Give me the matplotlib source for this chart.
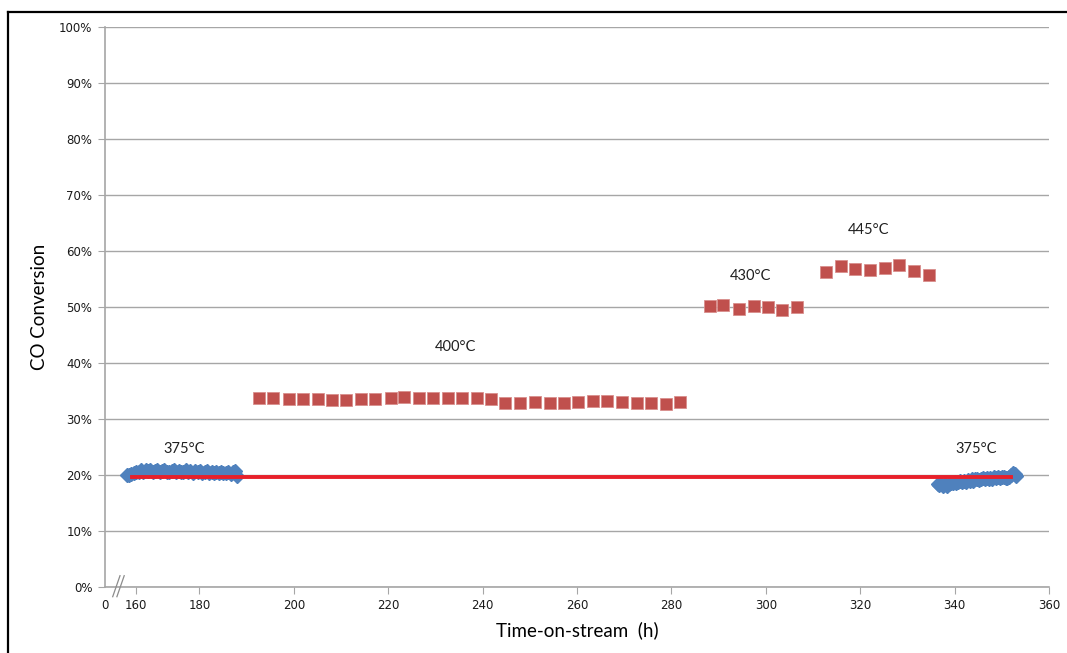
import matplotlib.pyplot as plt
from matplotlib.lines import Line2D

# 375 °C, first run (dense logging)
t_375a = [164.6, 165.1, 165.6, 166.1, 166.6, 167.1, 167.6, 168.1, 168.6, 169.1,
          169.6, 170.1, 170.6, 171.1, 171.6, 172.1, 172.6, 173.1, 173.6, 174.1,
          174.6, 175.1, 175.6, 176.1, 176.6, 177.1, 177.6, 178.1, 178.6, 179.1,
          179.6, 180.1, 180.6, 181.1, 181.6, 182.1, 182.6, 183.1, 183.6, 184.1,
          184.6, 185.1, 185.6, 186.1, 186.6, 187.1, 187.6, 188.0]
x_375a = [19.9, 20.0, 20.2, 20.4, 20.6, 20.5, 20.8, 20.6, 20.9, 20.7,
          20.8, 20.5, 20.7, 20.8, 20.5, 20.7, 20.8, 20.6, 20.5, 20.7,
          20.8, 20.5, 20.7, 20.6, 20.5, 20.8, 20.5, 20.7, 20.4, 20.7,
          20.5, 20.7, 20.4, 20.5, 20.7, 20.4, 20.6, 20.4, 20.5, 20.3,
          20.6, 20.4, 20.3, 20.5, 20.2, 20.5, 20.7, 19.8]

# 400 / 430 / 445 °C
t_400 = [192.7, 195.7, 198.9, 201.9, 205.1, 208.1, 211.1, 214.2, 217.2, 220.5,
         223.4, 226.5, 229.5, 232.7, 235.7, 238.8, 241.8, 244.8, 248.0, 251.1,
         254.2, 257.2, 260.3, 263.4, 266.4, 269.5, 272.7, 275.7, 278.8, 281.8]
x_400 = [33.8, 33.8, 33.6, 33.6, 33.6, 33.4, 33.4, 33.6, 33.6, 33.8,
         33.9, 33.8, 33.8, 33.8, 33.8, 33.8, 33.6, 32.9, 32.9, 33.0,
         32.9, 32.9, 33.0, 33.2, 33.2, 33.0, 32.9, 32.9, 32.7, 33.0]

t_430 = [288.1, 291.0, 294.3, 297.4, 300.4, 303.4, 306.6]
x_430 = [50.1, 50.4, 49.7, 50.1, 49.9, 49.5, 49.9]

t_445 = [312.7, 315.9, 318.9, 322.0, 325.2, 328.2, 331.4, 334.5]
x_445 = [56.2, 57.3, 56.7, 56.6, 56.9, 57.5, 56.4, 55.6]

# 375 °C, return run
t_375b = [336.4, 336.8, 337.2, 337.6, 338.0, 338.4, 338.8, 339.2, 339.6, 340.0,
          340.4, 340.8, 341.2, 341.6, 342.0, 342.4, 342.8, 343.2, 343.6, 344.0,
          344.4, 344.8, 345.2, 345.6, 346.0, 346.4, 346.8, 347.2, 347.6, 348.0,
          348.4, 348.8, 349.2, 349.6, 350.0, 350.4, 350.8, 351.2, 351.6, 352.0,
          352.4, 352.8, 353.1]
x_375b = [18.3, 18.2, 18.4, 18.1, 18.3, 18.0, 18.4, 18.5, 18.6, 18.7,
          18.5, 18.8, 18.9, 18.7, 19.0, 18.8, 19.1, 18.9, 19.2, 19.0,
          19.2, 19.3, 19.1, 19.3, 19.4, 19.2, 19.5, 19.3, 19.5, 19.3,
          19.6, 19.4, 19.6, 19.4, 19.6, 19.7, 19.5, 19.4, 19.6, 20.0,
          20.4, 20.1, 19.8]

# reference level at 375 °C
ref_t = [165.7, 352.0]
ref_x = [19.6, 19.6]

labels = [("375°C", 176.8, 24.6), ("400°C", 234.2, 42.8), ("430°C", 296.8, 55.5),
          ("445°C", 321.8, 63.7), ("375°C", 344.5, 24.6)]

x_ticks = [160, 166.5] + list(range(180, 361, 20))
x_ticklabels = ["0", "160"] + [str(v) for v in range(180, 361, 20)]
y_ticks = list(range(0, 101, 10))

blue = "#4F81BD"
red_sq = "#C0504D"
gray = "#A6A6A6"

fig = plt.figure(figsize=(10.67, 6.53), dpi=100)
ax = fig.add_axes([0.0984, 0.1011, 0.8847, 0.858])

ax.plot(t_375a, x_375a, "D", color=blue, ms=7.5, mec=blue, zorder=3)
ax.plot(t_375b, x_375b, "D", color=blue, ms=7.5, mec=blue, zorder=3)
for t, x in [(t_400, x_400), (t_430, x_430), (t_445, x_445)]:
    ax.plot(t, x, "s", color=red_sq, ms=8.5, mec="#D98F8D", mew=0.6, zorder=3)
ax.plot(ref_t, ref_x, "-", color="#E8202A", lw=2.8, zorder=4)

for txt, t, x in labels:
    ax.text(t, x, txt, ha="center", va="center", fontsize=10.5,
            family="Lato", color="#202020")

ax.set_xlim(160, 360)
ax.set_ylim(0, 100)
ax.set_xticks(x_ticks)
ax.set_xticklabels(x_ticklabels)
ax.set_yticks(y_ticks)
ax.set_yticklabels([f"{v}%" for v in y_ticks])
ax.tick_params(axis="both", direction="out", length=5, color=gray,
               labelsize=8.5, labelcolor="#1A1A1A")
ax.tick_params(axis="x", pad=4)
ax.tick_params(axis="y", pad=4)
# no tick on the origin, the y axis sits there
ax.xaxis.get_major_ticks()[0].tick1line.set_visible(False)

ax.grid(axis="y", color=gray, lw=1)
ax.set_axisbelow(True)
for s in ["top", "right"]:
    ax.spines[s].set_visible(False)
for s in ["left", "bottom"]:
    ax.spines[s].set_color(gray)
    ax.spines[s].set_linewidth(1.2)

ax.set_xlabel("Time-on-stream  (h)", fontsize=13.5, family="Lato", labelpad=6)
ax.set_ylabel("CO Conversion", fontsize=13.5, family="Lato", labelpad=8)

# axis break mark near the origin
for x0 in (112.7, 116.9):
    fig.add_artist(Line2D([x0 / 1067, (x0 + 7.3) / 1067],
                          [1 - 596.7 / 653, 1 - 575.7 / 653],
                          color="#8C8C8C", lw=0.9))

# outer frame (top and left edges)
fig.add_artist(Line2D([8 / 1067, 1], [1 - 12 / 653, 1 - 12 / 653], color="black", lw=1.6))
fig.add_artist(Line2D([8 / 1067, 8 / 1067], [0, 1 - 12 / 653], color="black", lw=1.6))

fig.savefig("out.png", dpi=100)
